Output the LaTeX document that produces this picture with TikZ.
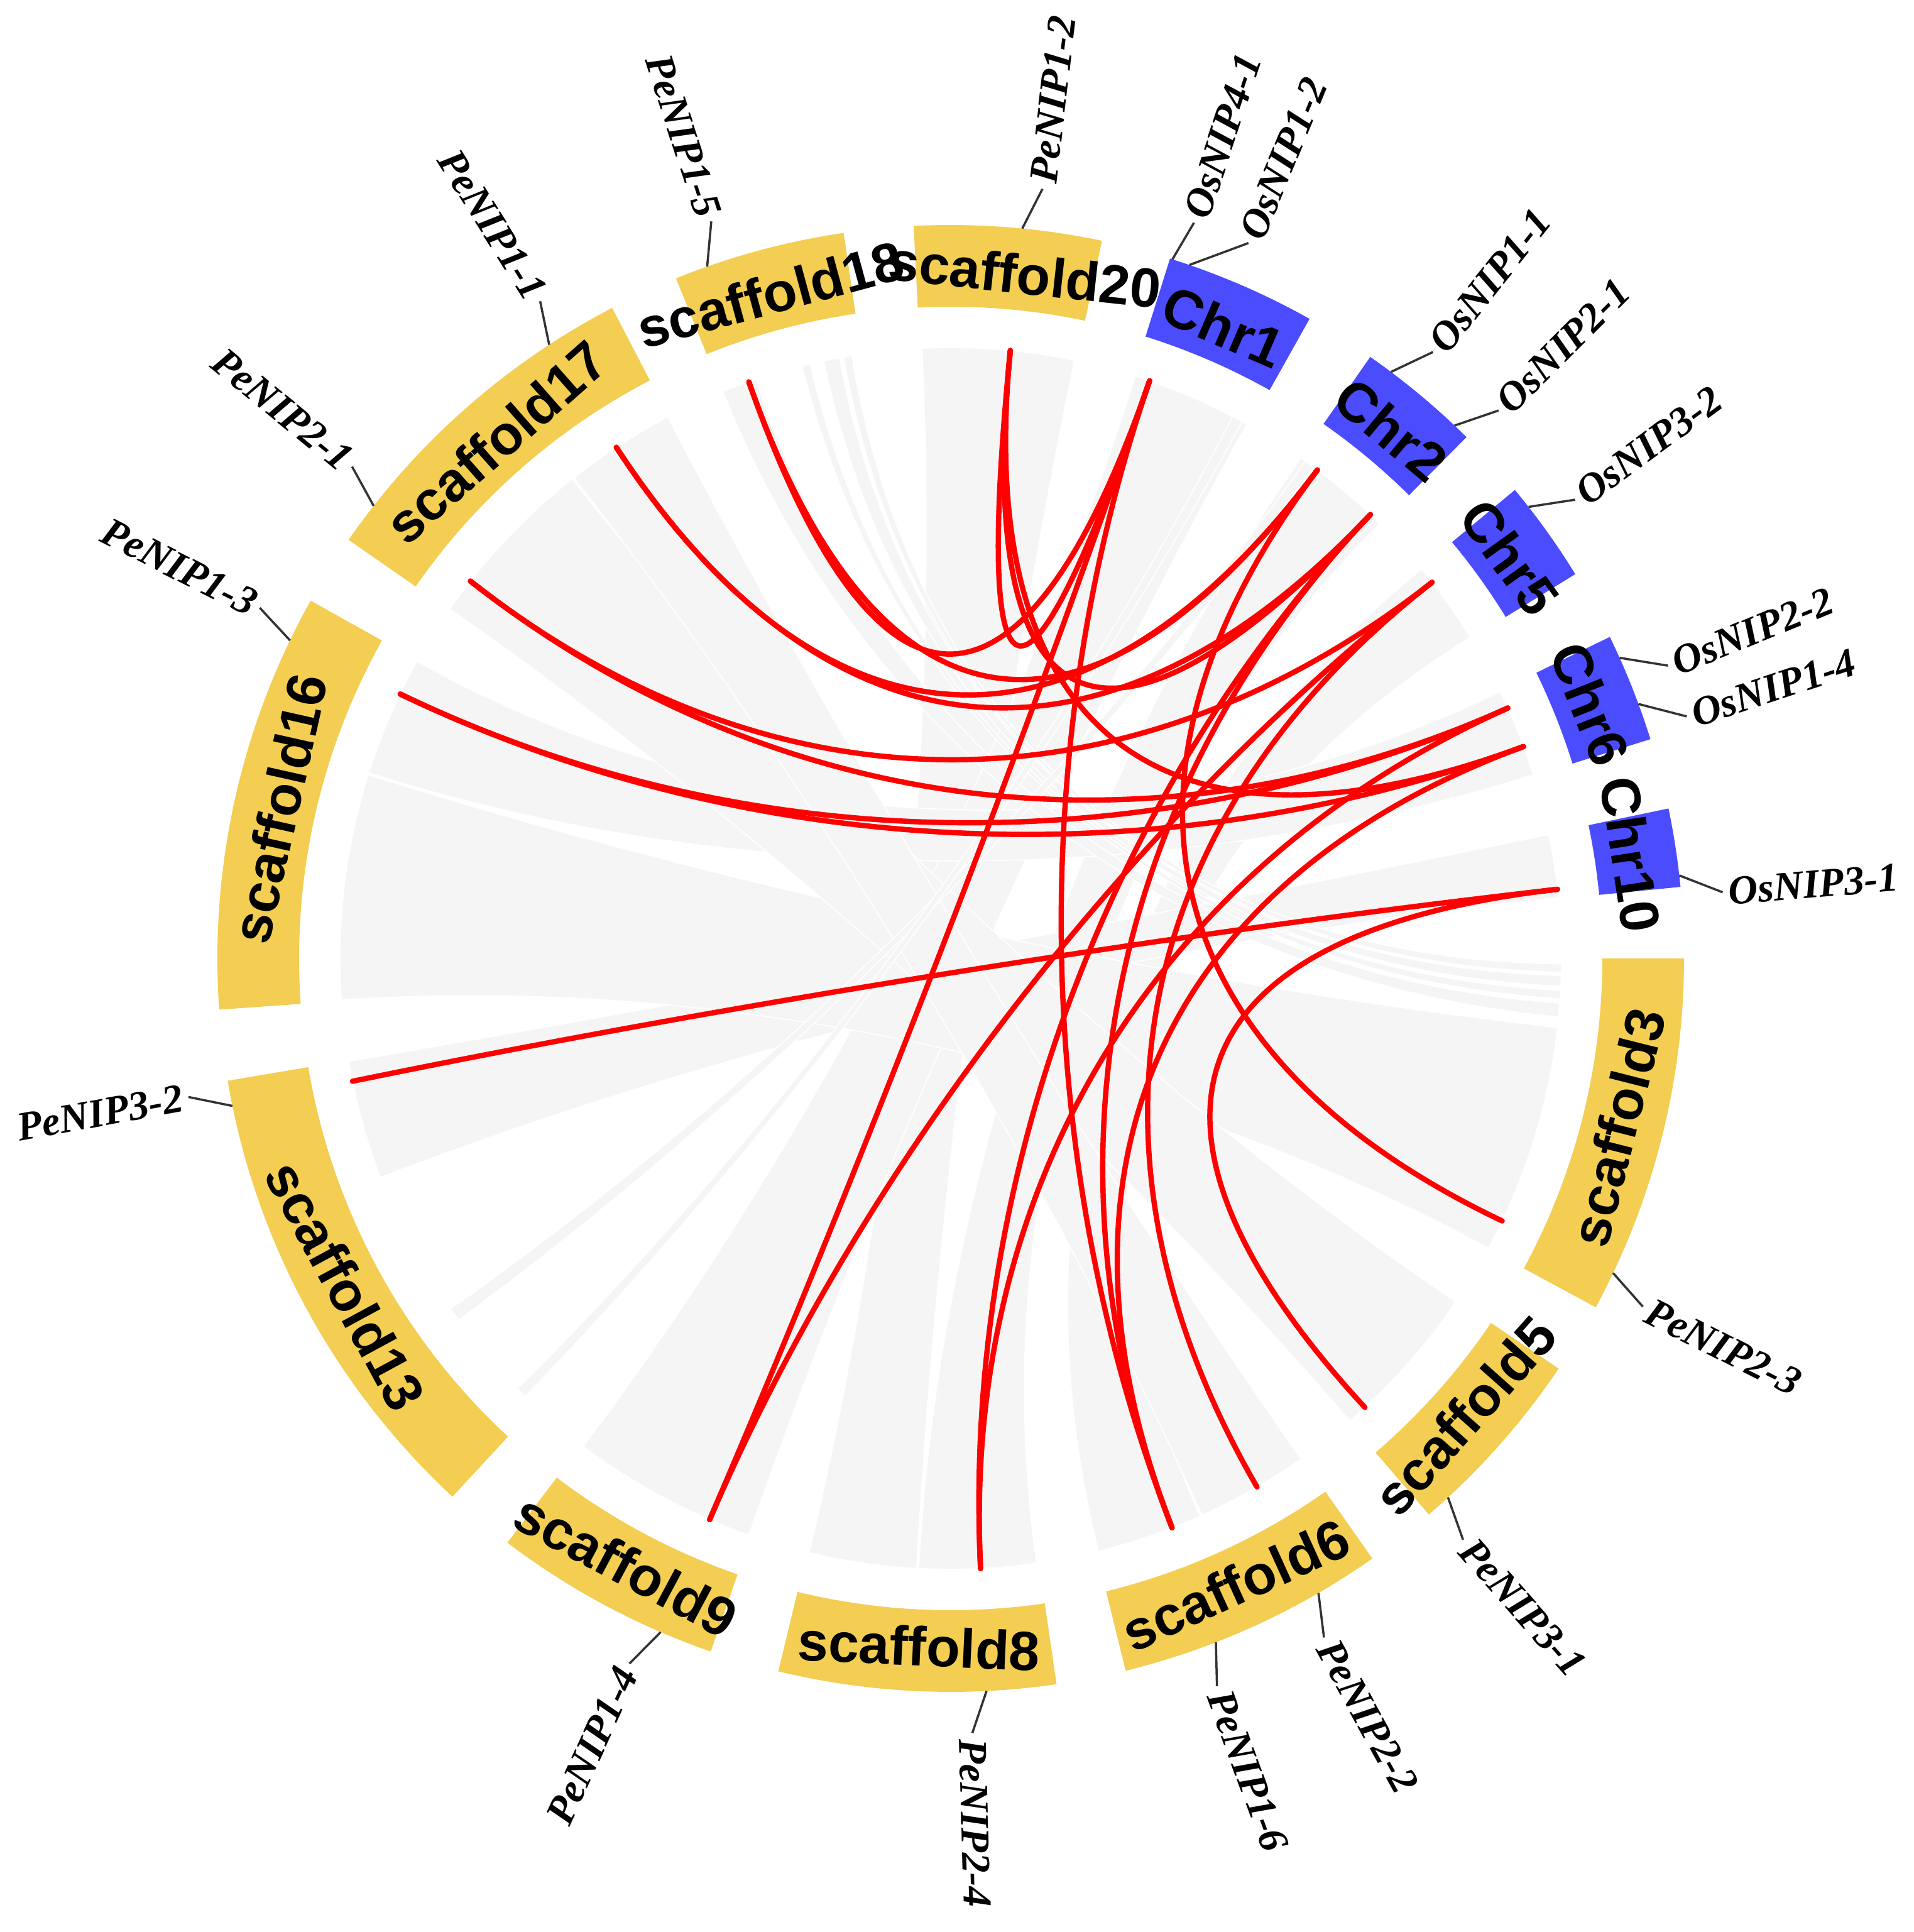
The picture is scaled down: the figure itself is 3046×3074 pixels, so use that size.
\documentclass[tikz,border=0pt]{standalone}
\usepackage{fontspec}
\setmainfont{Liberation Serif}
\newfontfamily\chrfont{Liberation Sans}
\usetikzlibrary{calc}
\definecolor{scafY}{RGB}{243,206,82}
\definecolor{chrB}{RGB}{76,76,255}
\definecolor{ribG}{RGB}{245,245,245}
\definecolor{tickC}{RGB}{51,51,51}
\begin{document}
\begin{tikzpicture}[x=0.1mm,y=0.1mm,
  redlink/.style={draw=red,line width=2.4pt,line cap=round},
  ribbon/.style={fill=ribG,draw=white,line width=0.5pt},
  genelbl/.style={font=\fontsize{18.5}{18.5}\selectfont\bfseries\itshape,inner sep=0pt},
  chrlbl/.style={font=\chrfont\fontsize{25}{25}\selectfont\bfseries,inner sep=0pt},
  tickln/.style={draw=tickC,line width=1pt}]
\useasboundingbox (-1513,-1549) rectangle (1533,1525);
\coordinate (ctr) at (0,0);
% gray synteny ribbons
\foreach \a/\b/\c/\d in {78.3/92.7/-103.4/-93.2, 61/72.4/-127/-109.3, 45.4/55/-93/-81.9,
  31.7/39.6/-76/-65.9, 17.5/25.9/150.9/162.3, 5.7/11.7/189.7/201, -28.3/-6.5/162.5/183.9,
  -49.2/-34.2/128.3/145.1, -65.7/-55/117.6/128.1, 108.6/111.9/-5.5/-4.2, 103.3/104.1/-3.8/-3.0,
  100.5/102/-2.6/-1.6, 99.3/100.1/-1.3/-0.5, 53.5/54.5/215/216.3, 61.5/62.5/224.8/225.8}
  \fill[ribbon] (\a:972) arc[start angle=\a,end angle=\b,radius=972]
     .. controls (\b:360) and (\c:360) .. (\c:972)
     arc[start angle=\c,end angle=\d,radius=972]
     .. controls (\d:360) and (\a:360) .. (\a:972) -- cycle;
% gene positions on the link circle
\foreach \n/\g in {O12/71.0, O11/53.1, O21/46.6, O32/38.0, O22/24.2, O14/20.3, O31/6.5,
  P12/84.4, P15/109.3, P11/123.2, P21/141.85, P13/154.35, P32/191.6, P14/-113.25,
  P24/-87.2, P16/-68.75, P22/-59.9, P31/-47.3, P23/-25.45}
  \coordinate (\n) at (\g:972);
% red links
\foreach \a/\b in {O31/P32, O31/P31, O12/P12, O12/P15, O12/P14, O12/P16, O11/P23, O11/P15,
  O11/P11, O21/P16, O21/P24, O21/P11, O21/P12, O32/P14, O32/P22, O32/P21, O22/P24, O22/P21,
  O22/P13, O14/P13, O14/P12, O14/P16}
  \draw[redlink] (\a) .. controls ($(ctr)!0.37!(\a)$) and ($(ctr)!0.37!(\b)$) .. (\b);
% chromosome bands
\foreach \a/\b/\c in {78.1/92.9/scafY, 60.7/72.6/chrB, 45.3/55.1/chrB, 31.6/39.7/chrB,
  17.4/26.0/chrB, 5.6/11.8/chrB, -28.4/0/scafY, -49.3/-34.0/scafY, -76.2/-54.9/scafY,
  -103.6/-81.7/scafY, -127.2/-109.1/scafY, 189.6/227.2/scafY, 150.8/184.0/scafY,
  117.5/145.2/scafY, 98.4/112.0/scafY}
  \fill[\c] (\a:1037) arc[start angle=\a,end angle=\b,radius=1037] -- (\b:1167)
     arc[start angle=\b,end angle=\a,radius=1167] -- cycle;
% chromosome labels
\foreach \t/\p/\r in {scaffold20/83.8/-6.2, Chr1/66.65/-23.35, Chr2/50.2/-39.8,
  Chr5/35.65/-54.35, Chr6/21.7/-68.3, Chr10/8.7/-81.3, scaffold3/-14.2/75.8,
  scaffold5/-41.65/48.35, scaffold6/-65.55/24.45, scaffold8/-92.65/-2.65,
  scaffold9/-118.15/-28.15, scaffold13/208.4/-61.6, scaffold16/167.4/77.4,
  scaffold17/131.35/41.35, scaffold18/105.2/15.2}
  \node[chrlbl,rotate=\r] (lab-\t) at (\p:1095) {\t};
% gene ticks and labels, reading outward
\foreach \t/\g/\l in {OsNIP4-1/72.4/71.7, OsNIP1-2/71.0/67.4, OsNIP1-1/53.1/51.5,
  OsNIP2-1/46.6/45.0, OsNIP3-2/38.0/36.3, OsNIP2-2/24.2/22.2, OsNIP1-4/20.3/18.2,
  OsNIP3-1/6.5/4.9, PeNIP2-3/-25.4/-26.7, PeNIP3-1/-47.3/-48.6, PeNIP2-2/-59.9/-61.2,
  PeNIP1-6/-68.8/-69.9, PeNIP2-4/-87.2/-88.4, PeNIP1-2/84.4/83.2}
  {\coordinate (t0-\t) at (\g:1167);
   \coordinate (t1-\t) at (\l:1233);
   \draw[tickln] (t0-\t) -- (t1-\t);
   \node[genelbl,anchor=west,rotate=\l] (g-\t) at (\l:1242) {\t};}
% gene ticks and labels, reading inward
\foreach \t/\g/\l in {PeNIP1-4/-113.3/-114.5, PeNIP3-2/191.6/190.3, PeNIP1-3/154.3/153.1,
  PeNIP2-1/141.9/140.6, PeNIP1-1/123.2/122.0, PeNIP1-5/109.4/108.0}
  {\coordinate (t0-\t) at (\g:1167);
   \coordinate (t1-\t) at (\l:1233);
   \draw[tickln] (t0-\t) -- (t1-\t);
   \node[genelbl,anchor=east,rotate=\l-180] (g-\t) at (\l:1242) {\t};}
\end{tikzpicture}
\end{document}
